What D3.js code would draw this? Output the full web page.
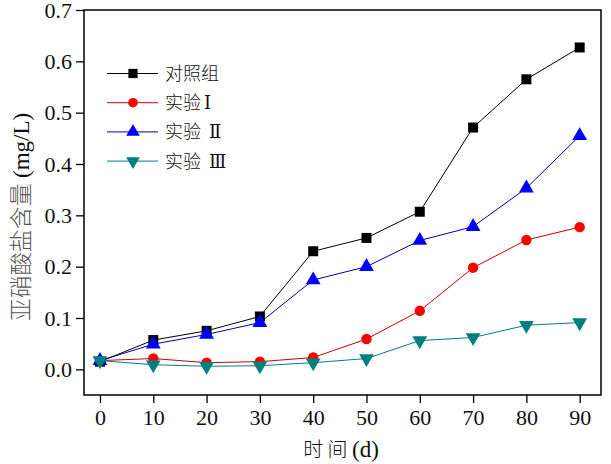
<!DOCTYPE html>
<html><head><meta charset="utf-8">
<script src="https://cdn.jsdelivr.net/npm/d3@7"></script>
<style>body{margin:0;background:#fff}
.serif{font-family:"Liberation Serif","Times New Roman","DejaVu Serif",serif !important;}
.cjk{font-family:"Noto Sans CJK SC","Noto Sans CJK JP",sans-serif;}
</style>
</head><body>
<svg id="c" width="611" height="464"></svg>
<script>
const days = [0,10,20,30,40,50,60,70,80,90];
const control = [0.015,0.057,0.075,0.103,0.230,0.256,0.307,0.471,0.565,0.627];
const exp1 = [0.017,0.021,0.013,0.015,0.023,0.059,0.114,0.198,0.252,0.277];
const exp2 = [0.017,0.049,0.068,0.091,0.174,0.200,0.251,0.278,0.353,0.455];
const exp3 = [0.017,0.009,0.006,0.007,0.013,0.021,0.056,0.062,0.086,0.091];
const seriesNames = ["对照组","实验","实验","实验"];
const seriesNumerals = ["","Ⅰ","Ⅱ","Ⅲ"];
const yTicks = [0.0,0.1,0.2,0.3,0.4,0.5,0.6,0.7];
const xTicks = [0,10,20,30,40,50,60,70,80,90];

const series = [
  {name:seriesNames[0], num:seriesNumerals[0], values:control, line:"#000000", fill:"#000000", sym:d3.symbolSquare, size:100, rot:0},
  {name:seriesNames[1], num:seriesNumerals[1], values:exp1, line:"#d00000", fill:"#ff0000", sym:d3.symbolCircle, size:85, rot:0},
  {name:seriesNames[2], num:seriesNumerals[2], values:exp2, line:"#0000b0", fill:"#0000ff", sym:d3.symbolTriangle, size:95, rot:0},
  {name:seriesNames[3], num:seriesNumerals[3], values:exp3, line:"#008080", fill:"#008080", sym:d3.symbolTriangle, size:95, rot:180}
];

const L=84,T=10,R=601,B=395;
const svg=d3.select("#c");
const x=d3.scaleLinear().domain([-3,94]).range([L,R]);
const y=d3.scaleLinear().domain([-0.05,0.7]).range([B,T]);

const yAxis=svg.append("g").attr("transform",`translate(${L},0)`)
  .call(d3.axisLeft(y).tickValues(yTicks).tickFormat(d3.format(".1f")).tickSize(8).tickPadding(4));
const xAxis=svg.append("g").attr("transform",`translate(0,${B})`)
  .call(d3.axisBottom(x).tickValues(xTicks).tickFormat(d3.format("d")).tickSize(8).tickPadding(6));
[xAxis,yAxis].forEach(g=>{
  g.attr("font-family",null);
  g.select(".domain").remove();
  g.selectAll("line").attr("stroke","#000").attr("stroke-width",1.3);
  g.selectAll("text").attr("class","serif").attr("font-size",22).attr("fill","#111");
});

svg.append("rect").attr("x",L).attr("y",T).attr("width",R-L).attr("height",B-T)
  .attr("fill","none").attr("stroke","#000").attr("stroke-width",1.5);

const line=d3.line().x((d,i)=>x(days[i])).y(d=>y(d));
series.forEach(s=>{
  svg.append("path").attr("d",line(s.values)).attr("fill","none")
    .attr("stroke",s.line).attr("stroke-width",1);
});
series.forEach(s=>{
  svg.append("g").selectAll("path").data(s.values).join("path")
    .attr("d",d3.symbol().type(s.sym).size(s.size))
    .attr("transform",(d,i)=>`translate(${x(days[i])},${y(d)}) rotate(${s.rot})`)
    .attr("fill",s.fill);
});

// legend
const ly0=73.5, ldy=29.2;
series.forEach((s,i)=>{
  const yy=ly0+i*ldy;
  svg.append("line").attr("x1",107).attr("x2",158).attr("y1",yy).attr("y2",yy)
    .attr("stroke",s.line).attr("stroke-width",1);
  svg.append("path").attr("d",d3.symbol().type(s.sym).size(s.size*0.85)())
    .attr("transform",`translate(133,${yy}) rotate(${s.rot})`).attr("fill",s.fill);
  const t=svg.append("text").attr("x",165).attr("y",yy+6.5).attr("font-size",18).attr("fill","#111");
  t.append("tspan").attr("class","cjk").attr("font-weight",300).text(s.name);
  if(s.num){
    t.append("tspan").attr("class","serif").attr("dx", i===1?3:8).attr("font-size",18).text(s.num);
  }
});

// axis titles
const xt=svg.append("text").attr("x",341).attr("y",457).attr("text-anchor","middle")
  .attr("font-size",20).attr("fill","#111");
xt.append("tspan").attr("class","cjk").attr("font-weight",300).text("时 间 ");
xt.append("tspan").attr("class","serif").attr("font-size",23).text("(d)");

const yt=svg.append("text").attr("transform","translate(29,217) rotate(-90)").attr("text-anchor","middle");
yt.append("tspan").attr("class","cjk").attr("font-weight",300).attr("font-size",23).attr("fill","#555").text("亚硝酸盐含量 ");
yt.append("tspan").attr("class","serif").attr("font-size",23).attr("fill","#111").text("(mg/L)");
</script>
</body></html>
